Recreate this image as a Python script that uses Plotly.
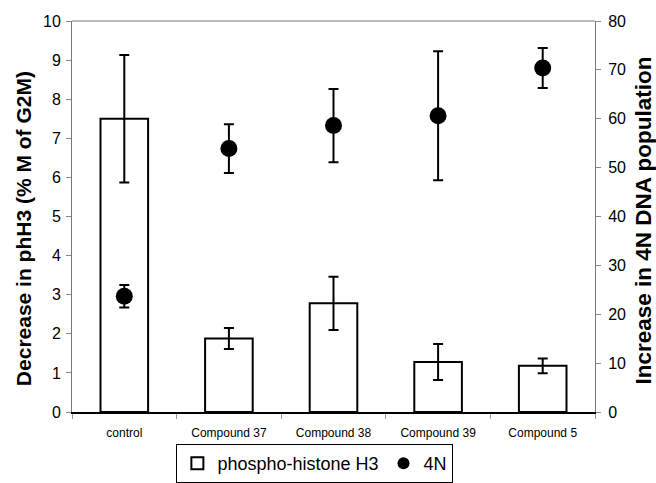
import plotly.graph_objects as go

categories = ["control", "Compound 37", "Compound 38", "Compound 39", "Compound 5"]
phh3 = [7.5, 1.88, 2.78, 1.28, 1.18]
phh3_err = [1.63, 0.27, 0.68, 0.46, 0.19]
n4 = [23.7, 53.9, 58.6, 60.6, 70.4]
n4_err = [2.3, 5.0, 7.5, 13.2, 4.1]

left_title = "Decrease in phH3 (% M of G2M)"
right_title = "Increase in 4N DNA population"

FONT = "Liberation Sans, Arial, sans-serif"

fig = go.Figure()
fig.add_trace(go.Bar(
    x=categories, y=phh3, name="phospho-histone H3",
    marker=dict(color="white", line=dict(color="black", width=2)),
    width=0.455,
    error_y=dict(type="data", array=phh3_err, color="black", thickness=2, width=5),
))
fig.add_trace(go.Scatter(
    x=categories, y=n4, name="4N", yaxis="y2", mode="markers",
    marker=dict(color="black", size=17, symbol="circle"),
    error_y=dict(type="data", array=n4_err, color="black", thickness=2, width=5),
))

fig.update_layout(
    width=656, height=483,
    margin=dict(l=72, r=61, t=21, b=71),
    plot_bgcolor="white", paper_bgcolor="white",
    font=dict(family=FONT, color="black"),
    showlegend=True,
    legend=dict(orientation="h", x=0.48, xanchor="center", xref="container",
                y=-0.012, yanchor="bottom", yref="container",
                bordercolor="black", borderwidth=1, font=dict(size=18),
                itemsizing="constant", itemwidth=30),
    xaxis=dict(
        type="category", showline=True, linecolor="black", linewidth=1.5,
        ticks="outside", tickson="boundaries", ticklen=5, tickcolor="#999999",
        tickfont=dict(size=12), showgrid=False, zeroline=False, automargin=False,
        ticklabelstandoff=9,
    ),
    yaxis=dict(
        range=[0, 10], dtick=1, showline=True, linecolor="#777777", linewidth=1,
        ticks="outside", ticklen=5, tickcolor="#888888", tickfont=dict(size=16),
        showgrid=False, zeroline=False, automargin=False, ticklabelstandoff=2,
    ),
    yaxis2=dict(
        range=[0, 80], dtick=10, overlaying="y", side="right", showline=True,
        linecolor="#777777", linewidth=1, ticks="outside", ticklen=5,
        tickcolor="#888888", tickfont=dict(size=16), showgrid=False, zeroline=False,
        automargin=False, ticklabelstandoff=4,
    ),
    shapes=[dict(type="line", xref="paper", yref="paper", x0=0, x1=1, y0=1, y1=1,
                 line=dict(color="#777777", width=1))],
    annotations=[
        dict(text="<b>" + left_title + "</b>", textangle=-90, xref="paper", yref="paper",
             x=-0.0927, y=0.469, xanchor="center", yanchor="middle", showarrow=False,
             font=dict(size=21)),
        dict(text="<b>" + right_title + "</b>", textangle=-90, xref="paper", yref="paper",
             x=1.0927, y=0.491, xanchor="center", yanchor="middle", showarrow=False,
             font=dict(size=22.5)),
    ],
    bargap=0.5,
)

fig.write_html("out.html")
